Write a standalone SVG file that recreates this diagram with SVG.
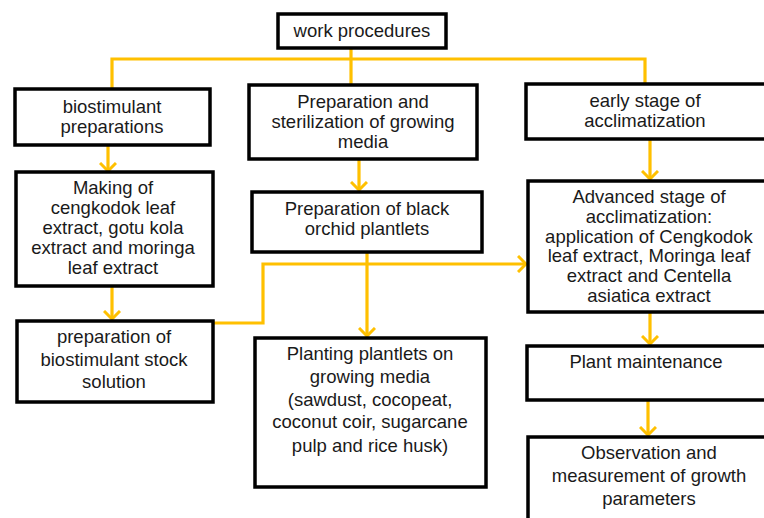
<svg xmlns="http://www.w3.org/2000/svg" width="764" height="518" viewBox="0 0 764 518">
<defs>
<marker id="chev" viewBox="0 0 10 18" refX="9" refY="9" markerWidth="10" markerHeight="18" markerUnits="userSpaceOnUse" orient="auto">
<path d="M1,1 L9,9 L1,17" fill="none" stroke="#FFC000" stroke-width="3"/>
</marker>
<style>
.box{fill:#fff;stroke:#000;stroke-width:3.5}
.t{font-family:"Liberation Sans",Arial,sans-serif;font-size:18.5px;fill:#1a1a1a;text-anchor:middle}
.c{fill:none;stroke:#FFC000;stroke-width:3.2}
.a{marker-end:url(#chev)}
</style>
</defs>
<rect width="764" height="518" fill="#fff"/>
<g id="connectors">
<path class="c" d="M351,48 V86"/>
<path class="c" d="M112,89 V59 H645 V84"/>
<path class="c a" d="M108,145 V171"/>
<path class="c a" d="M112,286 V319"/>
<path class="c a" d="M359,159 V190"/>
<path class="c a" d="M367,252 V336"/>
<path class="c a" d="M213,323 H263 V264 H526"/>
<path class="c a" d="M650,139 V179"/>
<path class="c a" d="M650,312 V344"/>
<path class="c a" d="M648,400 V435"/>
</g>
<g id="n-work"><rect class="box" x="278" y="14" width="168" height="34"/><text class="t" x="362" y="37">work procedures</text></g>
<g id="n-bio"><rect class="box" x="15" y="89" width="195" height="56"/><text class="t" x="112" y="113">biostimulant</text><text class="t" x="112" y="133">preparations</text></g>
<g id="n-prep"><rect class="box" x="249" y="85" width="228" height="74"/><text class="t" x="363" y="108">Preparation and</text><text class="t" x="363" y="128">sterilization of growing</text><text class="t" x="363" y="148">media</text></g>
<g id="n-early"><rect class="box" x="526" y="84" width="250" height="55"/><text class="t" x="645" y="107">early stage of</text><text class="t" x="645" y="127">acclimatization</text></g>
<g id="n-making"><rect class="box" x="16" y="172" width="197" height="114"/><text class="t" x="113" y="194">Making of</text><text class="t" x="113" y="214">cengkodok leaf</text><text class="t" x="113" y="234">extract, gotu kola</text><text class="t" x="113" y="254">extract and moringa</text><text class="t" x="113" y="274">leaf extract</text></g>
<g id="n-black"><rect class="box" x="252" y="192" width="230" height="60"/><text class="t" x="367" y="215">Preparation of black</text><text class="t" x="367" y="235">orchid plantlets</text></g>
<g id="n-adv"><rect class="box" x="528" y="181" width="250" height="131"/><text class="t" x="649" y="203">Advanced stage of</text><text class="t" x="649" y="223">acclimatization:</text><text class="t" x="649" y="243">application of Cengkodok</text><text class="t" x="649" y="262">leaf extract, Moringa leaf</text><text class="t" x="649" y="282">extract and Centella</text><text class="t" x="649" y="302">asiatica extract</text></g>
<g id="n-stock"><rect class="box" x="17" y="321" width="196" height="81"/><text class="t" x="114" y="343">preparation of</text><text class="t" x="114" y="366">biostimulant stock</text><text class="t" x="114" y="388">solution</text></g>
<g id="n-plant"><rect class="box" x="255" y="338" width="231" height="149"/><text class="t" x="370" y="360">Planting plantlets on</text><text class="t" x="370" y="383">growing media</text><text class="t" x="370" y="406">(sawdust, cocopeat,</text><text class="t" x="370" y="428">coconut coir, sugarcane</text><text class="t" x="370" y="452">pulp and rice husk)</text></g>
<g id="n-maint"><rect class="box" x="527" y="346" width="250" height="54"/><text class="t" x="646" y="368">Plant maintenance</text></g>
<g id="n-obs"><rect class="box" x="528" y="437" width="250" height="100"/><text class="t" x="649" y="459">Observation and</text><text class="t" x="649" y="482">measurement of growth</text><text class="t" x="649" y="505">parameters</text></g>
</svg>
